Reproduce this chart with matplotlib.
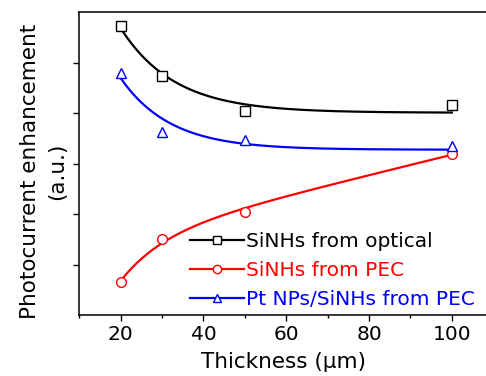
import matplotlib
matplotlib.use("Agg")
import matplotlib.pyplot as plt
from matplotlib.lines import Line2D
import numpy as np

plt.rcParams['font.family'] = ['DejaVu Sans']

# Data
thickness = np.array([20, 30, 50, 100])
optical = np.array([5.72, 4.73, 4.05, 4.15])
pec = np.array([0.65, 1.50, 2.05, 3.19])
pt_pec = np.array([4.80, 3.63, 3.47, 3.35])

labels = ['SiNHs from optical', 'SiNHs from PEC', 'Pt NPs/SiNHs from PEC']
colors = ['black', 'red', 'blue']
markers = ['s', 'o', '^']


def exp_fit(x, y, tau, linear=False):
    """Least-squares fit of y = a (+ b*x) + c*exp(-(x-20)/tau)."""
    cols = [np.ones_like(x, dtype=float), np.exp(-(x - 20) / tau)]
    if linear:
        cols.append(x.astype(float))
    A = np.vstack(cols).T
    coef, *_ = np.linalg.lstsq(A, y, rcond=None)
    xs = np.linspace(x.min(), x.max(), 200)
    cols = [np.ones_like(xs), np.exp(-(xs - 20) / tau)]
    if linear:
        cols.append(xs)
    return xs, np.vstack(cols).T @ coef


fig = plt.figure(figsize=(4.86, 3.76), dpi=100)
ax = fig.add_axes([0.163, 0.162, 0.840, 0.806])

fits = [exp_fit(thickness, optical, 13),
        exp_fit(thickness, pec, 10.5, linear=True),
        exp_fit(thickness, pt_pec, 12)]
series = [optical, pec, pt_pec]

for (xs, ys), y, c, m in zip(fits, series, colors, markers):
    ax.plot(xs, ys, color=c, lw=1.6, zorder=2)
    ax.plot(thickness, y, ls='none', marker=m, ms=7, mfc='white',
            mec=c, mew=1.0, zorder=3)

handles = [Line2D([], [], color=c, lw=1.6, marker=m, ms=6, mfc='white',
                  mec=c, mew=1.0) for c, m in zip(colors, markers)]
leg = ax.legend(handles, labels, loc='lower right', bbox_to_anchor=(1.0, -0.02),
                frameon=False, fontsize=14.5, handlelength=2.7, handletextpad=0.1,
                labelspacing=0.5, borderaxespad=0.2)
for txt, c in zip(leg.get_texts(), colors):
    txt.set_color(c)

ax.set_xlim(10, 108.6)
ax.set_ylim(0, 6)
ax.set_xticks([20, 40, 60, 80, 100])
ax.set_xticks([10, 30, 50, 70, 90], minor=True)
ax.set_yticks([1, 2, 3, 4, 5])
ax.set_yticklabels([])
ax.tick_params(axis='both', which='major', direction='out', length=4,
               width=1.0, labelsize=14.5, pad=3)
ax.tick_params(axis='x', which='minor', direction='out', length=2.5, width=1.0)
ax.spines['right'].set_visible(False)
for s in ['left', 'bottom', 'top']:
    ax.spines[s].set_linewidth(1.1)

ax.set_xlabel('Thickness (μm)', fontsize=15.5, labelpad=6)
ax.set_ylabel('Photocurrent enhancement\n(a.u.)', fontsize=15.5,
              linespacing=1.45)
ax.yaxis.set_label_coords(-0.03, 0.474)

fig.savefig('out.png', dpi=100)
